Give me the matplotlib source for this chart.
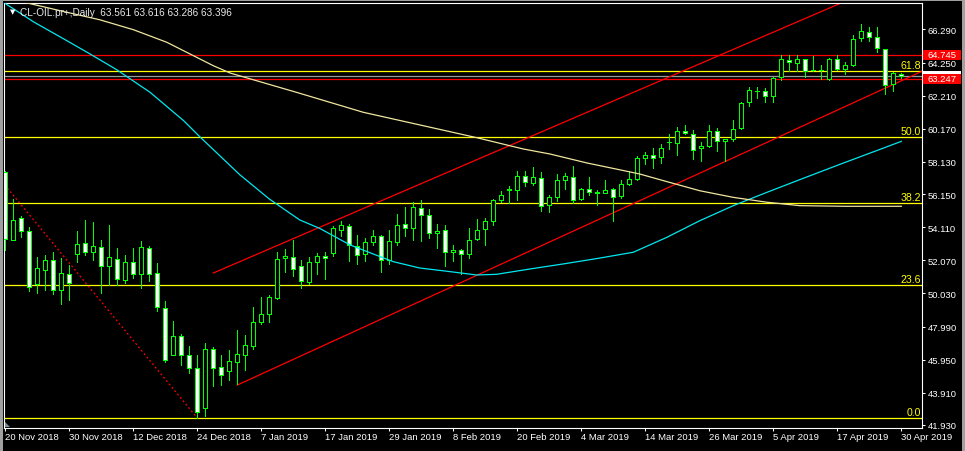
import matplotlib
matplotlib.use("Agg")
import matplotlib.pyplot as plt
import matplotlib.transforms as mtransforms
from matplotlib.patches import Rectangle, Polygon
import pandas as pd

plt.rcParams['font.family'] = ['Liberation Sans', 'DejaVu Sans']

# ---------------- data ----------------
symbol = "CL-OIL.pr+,Daily"
holidays = ["2018-12-25", "2019-01-01", "2019-04-19"]
dates = [d for d in pd.bdate_range("2018-11-20", "2019-04-30")
         if d.strftime("%Y-%m-%d") not in holidays]

opens = [57.51, 53.34, 54.66, 53.90, 50.61, 51.49, 52.07, 50.26, 51.25, 52.44,
         53.12, 52.57, 52.87, 51.74, 52.14, 50.88, 51.95, 51.21, 52.81, 51.27,
         49.12, 46.26, 47.39, 46.22, 45.42, 42.96, 46.59, 45.48, 45.24, 45.79,
         46.22, 46.81, 48.29, 48.75, 49.73, 52.20, 52.26, 51.70, 50.76, 51.99,
         52.32, 52.50, 53.92, 54.17, 52.94, 52.44, 53.18, 53.55, 52.07, 53.22,
         54.29, 54.04, 55.28, 54.85, 53.74, 53.92, 52.57, 52.69, 52.44, 53.37,
         53.98, 54.48, 55.77, 56.45, 56.39, 57.25, 56.82, 57.12, 55.46, 55.95,
         57.00, 57.19, 55.83, 56.45, 56.20, 56.20, 56.45, 56.02, 56.76, 57.06,
         58.36, 58.54, 58.42, 59.34, 59.28, 60.02, 59.83, 58.97, 59.10, 60.02,
         59.40, 59.53, 60.20, 61.81, 62.48, 62.48, 62.18, 63.35, 64.39, 64.21,
         64.45, 63.78, 63.78, 63.22, 64.45, 63.84, 64.08, 65.75, 66.12, 65.81,
         65.07, 62.91, 63.561]
highs = [57.57, 55.85, 54.78, 54.11, 52.26, 52.40, 52.57, 52.22, 51.78, 53.86,
         54.56, 54.43, 53.32, 54.25, 52.83, 52.40, 52.83, 53.26, 52.95, 51.91,
         49.57, 48.33, 47.53, 46.80, 46.24, 46.98, 46.72, 46.26, 46.55, 47.78,
         47.47, 49.20, 49.81, 49.92, 52.58, 52.77, 53.32, 52.09, 52.26, 52.50,
         52.57, 54.17, 54.48, 54.29, 53.61, 53.43, 53.92, 53.63, 53.92, 54.93,
         55.34, 55.65, 55.79, 55.22, 54.29, 54.23, 53.00, 52.77, 54.04, 54.60,
         54.66, 55.83, 56.32, 56.63, 57.56, 57.56, 57.80, 57.49, 56.08, 57.37,
         57.43, 57.86, 56.50, 57.19, 56.39, 57.00, 56.51, 57.00, 57.56, 58.48,
         58.73, 58.97, 59.22, 59.83, 60.27, 60.39, 60.08, 59.34, 60.39, 60.20,
         59.55, 60.70, 61.81, 62.73, 62.73, 62.67, 63.35, 64.70, 64.70, 64.70,
         64.50, 64.64, 64.08, 64.52, 64.70, 64.27, 65.93, 66.61, 66.43, 66.43,
         65.09, 63.65, 63.616]
lows = [52.71, 53.30, 53.49, 50.16, 50.06, 50.26, 50.00, 49.38, 49.65, 51.99,
        52.42, 52.11, 50.06, 50.55, 50.55, 50.68, 50.97, 50.35, 50.82, 48.97,
        45.79, 46.21, 45.64, 45.11, 42.36, 42.50, 44.35, 44.41, 44.72, 44.44,
        45.34, 46.63, 48.13, 48.29, 49.70, 51.37, 51.13, 50.39, 50.63, 51.25,
        50.92, 52.36, 53.55, 52.05, 51.83, 52.05, 53.00, 51.33, 51.83, 53.03,
        53.59, 53.34, 53.28, 53.47, 52.85, 51.74, 52.05, 51.21, 52.23, 53.31,
        53.03, 54.23, 55.68, 55.60, 55.77, 56.63, 56.69, 55.09, 55.03, 55.71,
        56.45, 55.58, 55.79, 56.08, 55.46, 56.19, 54.51, 55.89, 56.74, 57.00,
        57.99, 57.74, 58.05, 58.91, 58.54, 59.88, 58.29, 58.17, 59.03, 58.79,
        58.17, 59.40, 60.14, 61.60, 62.05, 61.81, 61.81, 63.16, 63.72, 63.72,
        63.35, 63.72, 63.22, 63.16, 63.78, 63.53, 64.07, 65.56, 65.56, 64.89,
        62.30, 62.48, 63.286]
closes = [53.39, 54.57, 53.86, 50.41, 51.58, 52.07, 50.26, 51.27, 50.66, 53.06,
          52.57, 52.94, 51.70, 52.26, 50.90, 51.95, 51.21, 52.87, 51.21, 49.18,
          45.91, 47.39, 46.22, 45.42, 42.71, 46.59, 45.42, 45.03, 45.85, 46.28,
          46.86, 48.26, 48.75, 49.79, 52.14, 52.32, 51.56, 50.78, 51.95, 52.32,
          52.20, 54.04, 54.23, 53.00, 52.38, 53.18, 53.55, 52.07, 53.24, 54.23,
          54.04, 55.34, 54.85, 53.74, 53.86, 52.57, 52.69, 52.44, 53.31, 53.92,
          54.48, 55.77, 56.08, 56.43, 57.25, 56.88, 57.19, 55.40, 55.95, 57.00,
          57.25, 55.77, 56.45, 56.26, 56.30, 56.39, 55.95, 56.76, 57.06, 58.36,
          58.54, 58.36, 58.97, 59.35, 60.02, 59.90, 58.85, 59.10, 60.02, 59.40,
          59.53, 60.14, 61.74, 62.54, 62.49, 62.18, 63.28, 64.45, 64.27, 64.45,
          63.72, 63.80, 63.79, 64.45, 63.84, 64.08, 65.69, 66.18, 65.81, 65.13,
          62.85, 63.59, 63.396]

# fast moving average (cyan), read at bar positions
cyan_idx = [0, 3.5, 7.7, 10.6, 13.9, 18.1, 22.3, 24.3, 26.8, 29.3, 33, 36.8, 39.3,
            43.1, 46, 48.5, 51.8, 55.2, 58.9, 61.4, 65.6, 69.75, 74.3, 78.5, 82.7,
            86.8, 91, 95.2, 99.3, 104.3, 109.3, 112]
cyan_val = [67.89, 66.77, 65.60, 64.78, 63.82, 62.42, 60.67, 59.69, 58.52, 57.35,
            55.85, 54.56, 54.04, 53.02, 52.46, 51.99, 51.60, 51.40, 51.17, 51.21,
            51.54, 51.85, 52.21, 52.57, 53.49, 54.51, 55.44, 56.26, 57.04, 57.98,
            58.90, 59.40]
# slow moving average (pale yellow)
slow_idx = [0, 3.3, 7.7, 11.8, 16, 20.2, 22.7, 26, 28.1, 36.4, 44.75, 53.1, 58.9,
            64.75, 68.1, 72.7, 76.8, 79.3, 82.7, 86.8, 91, 95.2, 99.3, 105, 112]
slow_val = [68.25, 67.86, 67.35, 66.89, 66.28, 65.50, 64.88, 64.06, 63.61, 62.42,
            61.19, 60.27, 59.63, 58.93, 58.62, 58.07, 57.65, 57.39, 56.92, 56.36,
            55.95, 55.65, 55.44, 55.40, 55.40]

# Fibonacci retracement anchors (bar index, price)
fib_idx = [-34, 24]
fib_val = [76.95, 42.36]
fib_ratios = [0.0, 23.6, 38.2, 50.0, 61.8]

# trend lines (rays)
upper_idx = [26, 104]
upper_val = [51.29, 67.82]
lower_idx = [29, 112]
lower_val = [44.39, 63.13]

red_levels = [64.745, 63.247]
ytick_vals = [66.290, 64.250, 62.210, 60.170, 58.130, 56.150, 54.110,
              52.070, 50.030, 47.990, 45.950, 43.910, 41.930]

# ---------------- figure ----------------
W, H = 965, 452
fig = plt.figure(figsize=(W / 100, H / 100), dpi=100, facecolor="black")

# window border
border = "#A0A0A0"
fig.patches.append(Rectangle((0, 1 - 2 / H), 1, 2 / H, transform=fig.transFigure,
                             facecolor=border, edgecolor="none"))
fig.patches.append(Rectangle((0, 0), 2.5 / W, 1, transform=fig.transFigure,
                             facecolor=border, edgecolor="none"))
fig.patches.append(Rectangle((1 - 3 / W, 0), 3 / W, 1, transform=fig.transFigure,
                             facecolor=border, edgecolor="none"))

left_px, right_px, top_px, bot_px = 4, 922, 4, 428.5
ax = fig.add_axes([left_px / W, 1 - bot_px / H, (right_px - left_px) / W,
                   (bot_px - top_px) / H])
ax.set_facecolor("black")

# pixel mapping: bar i centre at 5.3 + 8 i px ; price p at (68.1686 - p) / 0.061595 px
ax.set_xlim((left_px - 5.3) / 8, (right_px - 5.3) / 8)
ax.set_ylim(68.1686 - bot_px * 0.061595, 68.1686 - top_px * 0.061595)

for sp in ax.spines.values():
    sp.set_color("white")
    sp.set_linewidth(0.8)

FS = 6.8
ax.yaxis.tick_right()
ax.set_yticks(ytick_vals)
ax.set_yticklabels([f"{v:.3f}" for v in ytick_vals])
tick_pos = list(range(0, len(dates), 8))
ax.set_xticks(tick_pos)
ax.set_xticklabels([f"{dates[k].day} {dates[k]:%b %Y}" for k in tick_pos], ha="left")
ax.tick_params(axis="both", colors="white", labelcolor="white", labelsize=FS,
               length=2.3, width=0.75, direction="out")
ax.tick_params(axis="y", pad=2)
ax.tick_params(axis="x", pad=1.2)

x0, x1 = ax.get_xlim()

# fibonacci
fib_hi, fib_lo = fib_val
for r in fib_ratios:
    lvl = fib_lo + r / 100.0 * (fib_hi - fib_lo)
    ax.axhline(lvl, color="#FFFF00", lw=0.9, zorder=1)
    ax.text(x1 - 0.15, lvl + 0.08, f"{r:.1f}", color="#FFFF00", fontsize=7.6,
            ha="right", va="bottom", zorder=6)
ax.plot(fib_idx, fib_val, color="#FF0000", lw=0.9, ls=(0, (1.5, 2.0)), zorder=1)

# horizontal lines
for lv in red_levels:
    ax.axhline(lv, color="#FF0000", lw=0.9, zorder=1)
ax.axhline(closes[-1], color="#9A9A9A", lw=0.9, zorder=1)

# trend rays
for xs, ys in ((upper_idx, upper_val), (lower_idx, lower_val)):
    slope = (ys[1] - ys[0]) / (xs[1] - xs[0])
    xe = x1 + 5
    ax.plot([xs[0], xe], [ys[0], ys[0] + slope * (xe - xs[0])], color="#FF0000",
            lw=0.9, zorder=1)

# candles
lime = "#00FF00"
for i, (o, h, l, c) in enumerate(zip(opens, highs, lows, closes)):
    ax.vlines(i, l, h, color=lime, lw=0.72, zorder=2, antialiased=False)
    bottom = min(o, c)
    height = max(abs(c - o), 0.02)
    face = "white" if c < o else "black"
    ax.add_patch(Rectangle((i - 0.25, bottom), 0.5, height, facecolor=face,
                           edgecolor=lime, lw=0.72, zorder=3, antialiased=False))

# moving averages
ax.plot(cyan_idx, cyan_val, color="#00E8F0", lw=0.9, zorder=4)
ax.plot(slow_idx, slow_val, color="#F0E6A0", lw=0.9, zorder=4)

# price labels on right scale
trans = mtransforms.blended_transform_factory(fig.transFigure, ax.transData)
box_h = 10 * 0.061595
ax.add_patch(Rectangle((923 / W, closes[-1] - box_h / 2), 38 / W, box_h,
                       transform=trans, facecolor="white", edgecolor="none",
                       clip_on=False, zorder=8))
for lv in red_levels:
    ax.add_patch(Rectangle((923 / W, lv - box_h / 2), 38 / W, box_h, transform=trans,
                           facecolor="#FF0000", edgecolor="none", clip_on=False,
                           zorder=9))
    ax.text(928 / W, lv, f"{lv:.3f}", transform=trans, color="white", fontsize=FS,
            va="center", ha="left", zorder=10, clip_on=False)

# small shift marker
fig.patches.append(Polygon([(5 / W, 1 - 423 / H), (5 / W, 1 - 428 / H),
                            (10 / W, 1 - 428 / H)], closed=True,
                           transform=fig.transFigure, facecolor="#8090A0",
                           edgecolor="none"))

# title
fig.text(10 / W, 1 - 12.5 / H, "\u25BC", color="white", fontsize=5,
         va="center", ha="left", family=["DejaVu Sans"])
fig.text(20 / W, 1 - 12.5 / H,
         f"{symbol}  {opens[-1]:.3f} {highs[-1]:.3f} {lows[-1]:.3f} {closes[-1]:.3f}",
         color="#E8E8E8", fontsize=7.2, va="center", ha="left")

fig.savefig("out.png", dpi=100, facecolor="black")
